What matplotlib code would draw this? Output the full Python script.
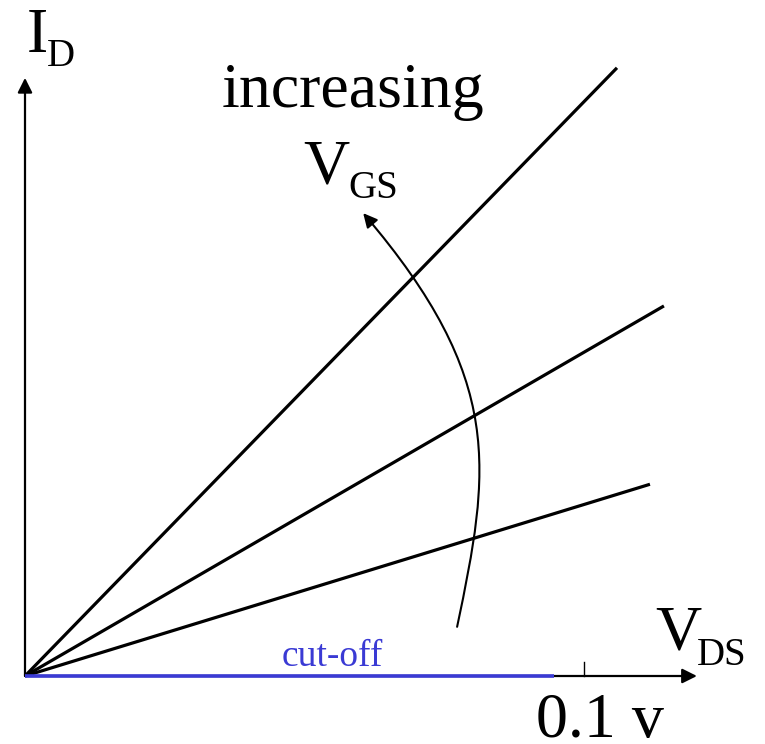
import numpy as np
import matplotlib
matplotlib.use("Agg")
import matplotlib.pyplot as plt
from matplotlib.patches import FancyArrowPatch
from matplotlib.path import Path

# MOSFET linear region: I_D vs V_DS for increasing V_GS (mV, arbitrary I_D units)
vds_end = [105.9, 114.3, 111.8]
id_end = [108.8, 66.2, 34.3]
cutoff_end = 94.6
tick_vds = 100.0

# "increasing V_GS" arrow (cubic bezier control points, data units)
arrow_x = [77.3, 83.2, 85.9, 60.5]
arrow_y = [8.8, 36.9, 53.0, 82.8]

plt.rcParams['font.family'] = ['Liberation Serif', 'DejaVu Serif']

W, H = 765, 744
fig = plt.figure(figsize=(W / 100, H / 100), dpi=100)
ax = fig.add_axes([0, 0, 1, 1])
ax.set_xlim(-25 / 5.59, 740 / 5.59)
ax.set_ylim(-68 / 5.59, 676 / 5.59)
ax.axis('off')


def px(x, y):
    return x / W, 1 - y / H


blue = '#3a3ad4'

# axes with arrows
arr = dict(arrowstyle='-|>', lw=1.6, color='black', mutation_scale=22,
           shrinkA=0, shrinkB=0)
ax.annotate('', xy=(120.2, 0), xytext=(0, 0), arrowprops=arr)
ax.annotate('', xy=(0, 107), xytext=(0, 0), arrowprops=arr)

# characteristic lines
for x1, y1 in zip(vds_end, id_end):
    ax.plot([0, x1], [0, y1], color='black', lw=2.3, solid_capstyle='butt')

# cut-off line
ax.plot([0, cutoff_end], [0, 0], color=blue, lw=2.6,
        solid_capstyle='butt', zorder=5)

# tick at 0.1 V
ax.plot([tick_vds, tick_vds], [0, 2.5], color='black', lw=1.0)

# curved arrow for increasing V_GS
path = Path(list(zip(arrow_x, arrow_y)),
            [Path.MOVETO, Path.CURVE4, Path.CURVE4, Path.CURVE4])
ax.add_patch(FancyArrowPatch(path=path, arrowstyle='-|>', lw=1.5,
                             color='black', mutation_scale=21))

big = 46
sub = 28
fig.text(*px(27, 52), 'I', fontsize=big, va='baseline')
fig.text(*px(47, 66), 'D', fontsize=sub, va='baseline')
fig.text(*px(222, 107), 'increasing', fontsize=big, va='baseline')
fig.text(*px(303, 183), 'V', fontsize=big, va='baseline')
fig.text(*px(348, 198), 'GS', fontsize=sub, va='baseline')
fig.text(*px(655, 650), 'V', fontsize=big, va='baseline')
fig.text(*px(697, 665), 'DS', fontsize=sub, va='baseline')
fig.text(*px(536, 737), '0.1 v', fontsize=big, va='baseline')
fig.text(*px(282, 666), 'cut-off', fontsize=27, va='baseline', color=blue)

fig.savefig('out.png', dpi=100)
